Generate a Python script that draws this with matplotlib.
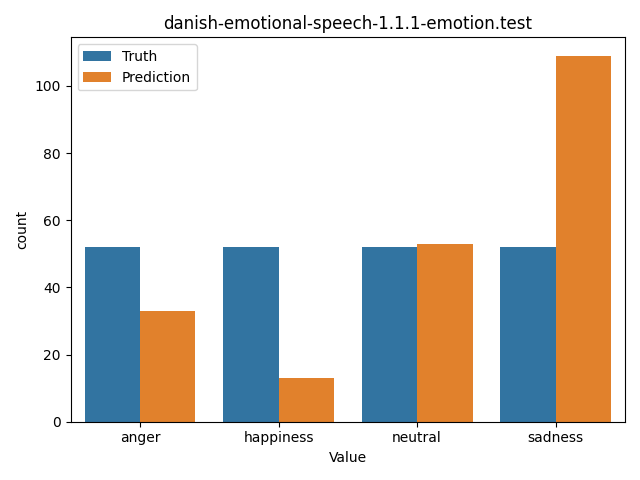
import matplotlib
matplotlib.use("Agg")
import matplotlib.pyplot as plt
import seaborn as sns
import pandas as pd

categories = ["anger", "happiness", "neutral", "sadness"]
truth = [52, 52, 52, 52]
prediction = [33, 13, 53, 109]

df = pd.DataFrame({
    "Value": categories * 2,
    "count": truth + prediction,
    "source": ["Truth"] * 4 + ["Prediction"] * 4,
})

fig, ax = plt.subplots(figsize=(6.4, 4.8), dpi=100)
sns.barplot(data=df, x="Value", y="count", hue="source", ax=ax,
            palette=["#1f77b4", "#ff7f0e"], saturation=0.75)
ax.legend(title=None, loc="upper left")
ax.set_title("danish-emotional-speech-1.1.1-emotion.test")
fig.tight_layout()
fig.savefig("out.png")
